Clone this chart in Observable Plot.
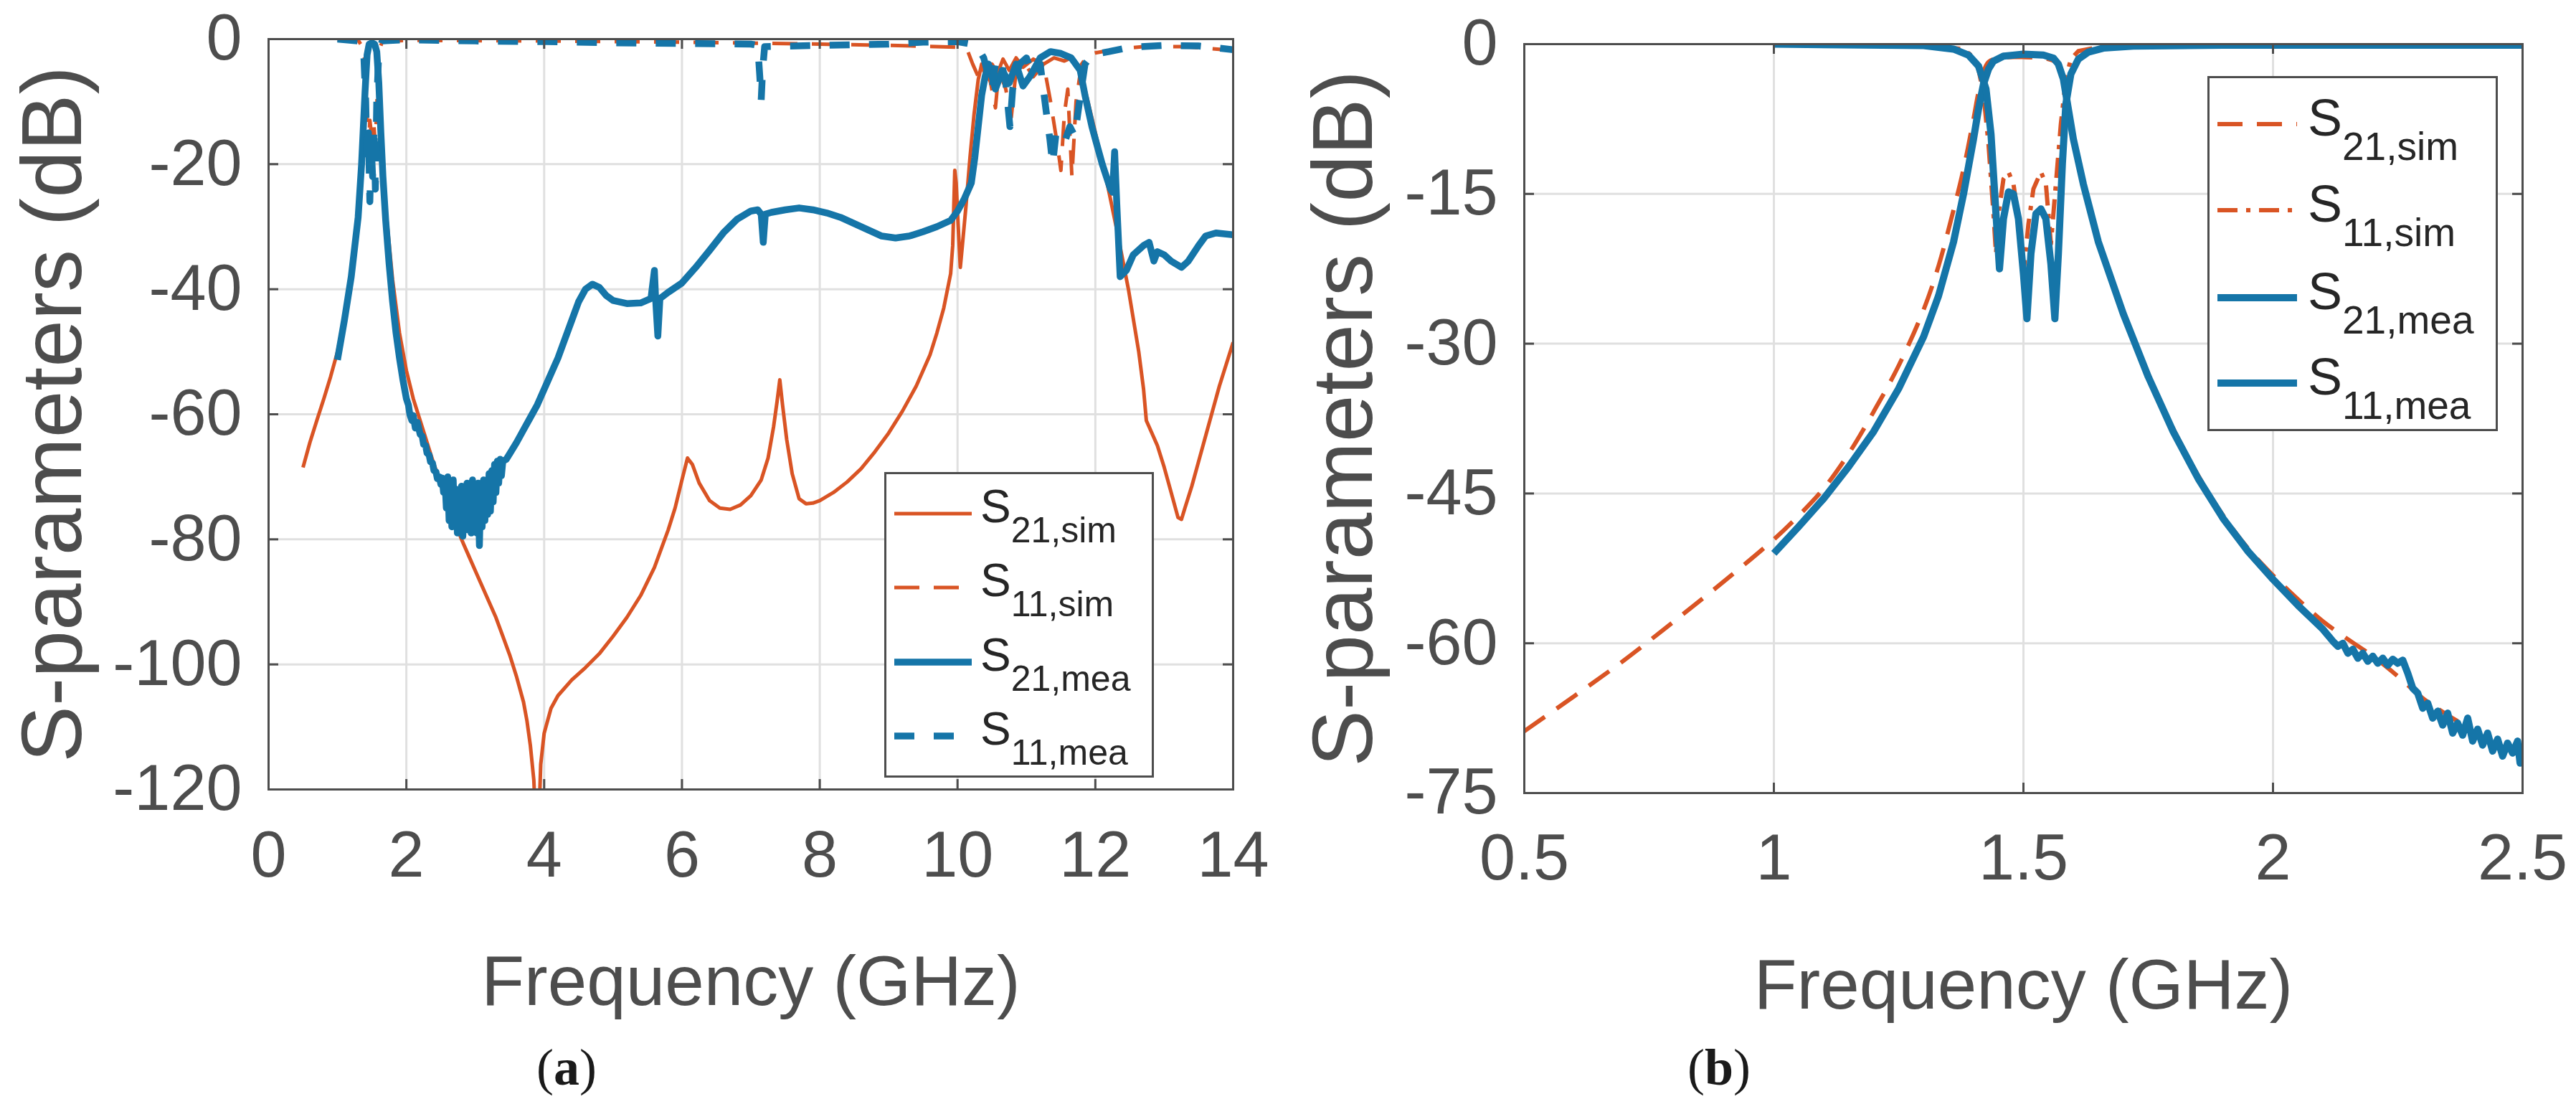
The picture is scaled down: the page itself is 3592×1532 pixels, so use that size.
<!DOCTYPE html>
<html><head><meta charset="utf-8">
<script src="https://cdn.jsdelivr.net/npm/d3@7"></script>
<script src="https://cdn.jsdelivr.net/npm/@observablehq/plot@0.6"></script>
<style>
html,body{margin:0;padding:0;background:#fff;}
#root{position:relative;width:3592px;height:1532px;overflow:hidden;background:#fff;}
.panel{position:absolute;top:0;}
.cap{position:absolute;font-family:"Liberation Serif","Times New Roman",serif;font-size:72px;color:#1a1a1a;transform:translate(-50%,-50%);white-space:nowrap;line-height:1;}
</style></head><body><div id="root"></div>
<script>
// ---------- Panel (a) data ----------
const aFreqTicks = [0, 2, 4, 6, 8, 10, 12, 14];
const aDbTicks = [-120, -100, -80, -60, -40, -20, 0];
const legendLabels = ["21,sim", "11,sim", "21,mea", "11,mea"];

const aS21sim = [[0.5,-68.5],[0.6,-64.5],[0.7,-61.0],[0.8,-57.6],[0.9,-54.0],[1.0,-50.0],[1.1,-44.5],[1.2,-37.0],[1.3,-27.0],[1.36,-17.0],[1.4,-7.5],[1.42,-3.0],[1.44,-1.2],[1.5,-0.8],[1.56,-1.2],[1.58,-3.0],[1.6,-9.0],[1.65,-19.0],[1.7,-27.0],[1.8,-38.5],[1.9,-47.0],[2.0,-53.0],[2.1,-57.5],[2.2,-61.0],[2.3,-64.5],[2.4,-68.0],[2.5,-71.0],[2.6,-74.0],[2.7,-77.0],[2.8,-80.0],[2.9,-82.5],[3.0,-85.0],[3.1,-87.5],[3.2,-90.0],[3.3,-92.5],[3.4,-95.5],[3.5,-98.5],[3.6,-102.0],[3.7,-106.0],[3.75,-109.0],[3.8,-113.0],[3.85,-118.5],[3.88,-126],[3.92,-126],[3.95,-116],[4.0,-111],[4.1,-107],[4.2,-105],[4.4,-102.5],[4.6,-100.5],[4.8,-98.3],[5.0,-95.5],[5.2,-92.5],[5.4,-89],[5.6,-84.5],[5.8,-78.5],[5.9,-75],[6.0,-70.5],[6.08,-67],[6.15,-68],[6.25,-71],[6.4,-73.8],[6.55,-75],[6.7,-75.2],[6.85,-74.5],[7.0,-73],[7.15,-70.5],[7.25,-67],[7.33,-62],[7.38,-58],[7.42,-54.5],[7.46,-58.5],[7.52,-64],[7.6,-69.5],[7.7,-73.5],[7.8,-74.3],[7.9,-74.2],[8.0,-73.8],[8.2,-72.5],[8.4,-70.8],[8.6,-68.7],[8.8,-66],[9.0,-63],[9.2,-59.5],[9.4,-55.5],[9.6,-50.5],[9.7,-47],[9.8,-43],[9.9,-37.5],[9.93,-33],[9.96,-21],[9.98,-23],[10.01,-30],[10.04,-36.5],[10.07,-33],[10.12,-27],[10.18,-19],[10.24,-12],[10.3,-6.5],[10.35,-4],[10.42,-6.5],[10.5,-4],[10.58,-5.5],[10.66,-3.2],[10.75,-5],[10.85,-3],[10.95,-4.5],[11.1,-3.2],[11.25,-4],[11.4,-3],[11.55,-3.5],[11.65,-3],[11.75,-4.5],[11.85,-8],[11.98,-14],[12.18,-23.5],[12.33,-31.5],[12.48,-40],[12.63,-50],[12.7,-56],[12.74,-61],[12.8,-62.5],[12.9,-65],[13.0,-68.5],[13.1,-72.5],[13.2,-76.5],[13.25,-76.8],[13.3,-75],[13.4,-71.5],[13.5,-67.5],[13.6,-63.5],[13.7,-59.5],[13.8,-55.5],[13.9,-52],[14.0,-48.5]];

const aS11sim = [[1.0,-0.1],[1.3,-0.2],[1.38,-1.5],[1.41,-6],[1.43,-14],[1.45,-18],[1.47,-13],[1.5,-16],[1.53,-14],[1.55,-17],[1.58,-8],[1.6,-2],[1.65,-0.4],[2,-0.2],[4,-0.3],[6,-0.5],[8,-0.8],[9,-1.0],[10,-1.3],[10.15,-2],[10.22,-4],[10.3,-6],[10.35,-9],[10.4,-4],[10.48,-7],[10.55,-11],[10.6,-5],[10.7,-8],[10.78,-12.5],[10.85,-5],[10.95,-3.5],[11.1,-6],[11.25,-4],[11.35,-10],[11.45,-17],[11.5,-21],[11.55,-12],[11.6,-8],[11.66,-22],[11.72,-10],[11.8,-4],[11.9,-2.5],[12.0,-2.2],[12.3,-1.6],[12.7,-1.2],[13.3,-1.2],[14,-1.8]];

const aS21mea = [[1.0,-51.3],[1.1,-45],[1.2,-38],[1.3,-28.5],[1.35,-20],[1.4,-8.5],[1.43,-2.5],[1.46,-0.8],[1.5,-0.6],[1.54,-0.8],[1.57,-2],[1.6,-7],[1.63,-15],[1.66,-22],[1.7,-29],[1.75,-36],[1.8,-42],[1.85,-47],[1.9,-51],[1.95,-54.5],[2.0,-57.5],[2.03,-58.5],[2.05,-60],[2.08,-61],[2.1,-60.2],[2.13,-62.2],[2.16,-61.3],[2.2,-63.2],[2.23,-63.5],[2.25,-64.8],[2.28,-65],[2.3,-66.2],[2.33,-66.5],[2.35,-67.6],[2.38,-67.8],[2.4,-69],[2.43,-69.2],[2.45,-70.3],[2.48,-70],[2.5,-71.2],[2.52,-70.2],[2.54,-72.5],[2.56,-70.5],[2.58,-75],[2.6,-70],[2.62,-77],[2.64,-71.5],[2.66,-78],[2.68,-70.5],[2.7,-77.5],[2.72,-72],[2.74,-79],[2.76,-72.5],[2.78,-78],[2.8,-71.5],[2.82,-79.5],[2.84,-72.5],[2.86,-77.5],[2.88,-71],[2.9,-78.5],[2.92,-71.5],[2.94,-79],[2.96,-70.5],[2.98,-78],[3.0,-72],[3.02,-79],[3.04,-71],[3.06,-81],[3.08,-71.5],[3.1,-78],[3.12,-70.5],[3.14,-77],[3.16,-71],[3.18,-76],[3.2,-69.5],[3.22,-75.5],[3.24,-69],[3.26,-74],[3.28,-68],[3.3,-72.5],[3.32,-67.5],[3.34,-71],[3.36,-67.2],[3.38,-69.8],[3.4,-67.5],[3.45,-67.2],[3.5,-66.3],[3.6,-64.5],[3.7,-62.5],[3.8,-60.5],[3.9,-58.5],[4.0,-56],[4.1,-53.5],[4.2,-51],[4.3,-48],[4.4,-45],[4.5,-42],[4.6,-40],[4.7,-39.2],[4.8,-39.7],[4.9,-41],[5.0,-41.8],[5.2,-42.3],[5.4,-42.2],[5.55,-41.5],[5.6,-37],[5.62,-42],[5.65,-47.5],[5.68,-41.5],[5.8,-40.5],[6.0,-39],[6.2,-36.5],[6.4,-33.8],[6.6,-31],[6.8,-28.8],[7.0,-27.5],[7.1,-27.3],[7.15,-28],[7.18,-32.5],[7.21,-28],[7.3,-27.7],[7.5,-27.3],[7.7,-27],[7.9,-27.3],[8.1,-27.8],[8.3,-28.5],[8.5,-29.5],[8.7,-30.5],[8.9,-31.5],[9.1,-31.8],[9.3,-31.5],[9.5,-30.8],[9.7,-30],[9.9,-29],[10.0,-27.5],[10.1,-25.5],[10.2,-23],[10.25,-19],[10.3,-14],[10.35,-9],[10.4,-6],[10.45,-4],[10.55,-8],[10.65,-5],[10.75,-7],[10.85,-4],[10.95,-7.5],[11.05,-6],[11.2,-3],[11.35,-2],[11.5,-2.3],[11.65,-3],[11.78,-5],[11.85,-9],[11.95,-14],[12.1,-20],[12.22,-24],[12.25,-24.5],[12.28,-18],[12.31,-26],[12.36,-38],[12.45,-37],[12.55,-34.5],[12.7,-33],[12.78,-32.5],[12.85,-35.5],[12.9,-34],[13.0,-34.5],[13.1,-35.5],[13.25,-36.5],[13.35,-35.5],[13.5,-33],[13.6,-31.5],[13.75,-31],[14.0,-31.3]];

const aS11mea = [[1.0,0],[1.3,-0.3],[1.38,-2],[1.41,-10],[1.43,-20],[1.45,-15],[1.47,-26],[1.49,-17],[1.51,-22],[1.53,-14],[1.55,-24],[1.57,-10],[1.6,-2],[1.65,-0.3],[2,-0.1],[3,-0.3],[4,-0.4],[5,-0.6],[6,-0.7],[7,-0.8],[7.1,-1],[7.13,-6],[7.15,-9.8],[7.17,-5],[7.2,-1.2],[8,-1],[9,-0.8],[9.5,-0.5],[10,-0.4],[10.2,-0.8],[10.3,-1.5],[10.38,-3],[10.45,-6],[10.5,-8],[10.55,-4],[10.62,-3],[10.7,-7],[10.76,-14],[10.8,-8],[10.9,-4],[11.0,-3],[11.1,-6],[11.2,-4],[11.28,-11],[11.34,-16],[11.38,-20],[11.43,-15],[11.5,-14.5],[11.57,-16],[11.63,-14],[11.7,-15.5],[11.77,-10],[11.85,-4],[11.95,-2.5],[12.2,-2],[12.5,-1.3],[13,-1],[13.5,-1.1],[14,-1.7]];

// ---------- Panel (b) data ----------
const bFreqTicks = [0.5, 1, 1.5, 2, 2.5];
const bDbTicks = [-75, -60, -45, -30, -15, 0];

const bS21sim = [[0.5,-68.8],[0.6,-65.3],[0.7,-61.7],[0.8,-57.8],[0.9,-53.8],[1.0,-49.6],[1.05,-47.2],[1.1,-44.5],[1.15,-41.0],[1.2,-36.8],[1.25,-32.2],[1.3,-26.6],[1.33,-22.2],[1.36,-16.6],[1.38,-12.5],[1.40,-7.5],[1.41,-4.8],[1.42,-2.8],[1.43,-1.8],[1.45,-1.4],[1.5,-1.3],[1.55,-1.5],[1.57,-2.0],[1.58,-3.5],[1.59,-6.0],[1.60,-9.0],[1.62,-14.0],[1.65,-19.5],[1.70,-27.0],[1.75,-33.0],[1.8,-38.5],[1.85,-43.2],[1.9,-47.2],[1.95,-50.5],[2.0,-53.2],[2.05,-55.6],[2.1,-57.8],[2.15,-59.6],[2.2,-61.3],[2.25,-63.3],[2.3,-65.5],[2.35,-67.2],[2.37,-67.8]];

const bS11sim = [[1.0,-0.05],[1.3,-0.1],[1.38,-0.5],[1.40,-1.3],[1.41,-2.5],[1.42,-5.0],[1.43,-10.0],[1.44,-17.0],[1.445,-21.0],[1.45,-17.0],[1.46,-13.5],[1.47,-12.8],[1.48,-14.0],[1.49,-17.5],[1.50,-23.0],[1.51,-18.0],[1.52,-14.5],[1.535,-12.8],[1.545,-14.0],[1.555,-20.0],[1.565,-14.0],[1.575,-8.0],[1.585,-3.5],[1.595,-1.5],[1.61,-0.7],[1.65,-0.3],[1.8,-0.1],[2.37,-0.05]];

const bS21mea = [[1.0,-51.0],[1.05,-48.3],[1.1,-45.5],[1.15,-42.3],[1.2,-38.8],[1.25,-34.5],[1.3,-29.3],[1.33,-25.2],[1.36,-19.8],[1.38,-15.0],[1.40,-9.5],[1.41,-6.5],[1.42,-4.0],[1.43,-2.5],[1.44,-1.7],[1.46,-1.2],[1.5,-1.0],[1.54,-1.1],[1.56,-1.4],[1.57,-2.0],[1.58,-3.5],[1.59,-6.5],[1.60,-9.5],[1.62,-14.0],[1.65,-19.8],[1.7,-27.0],[1.75,-33.3],[1.8,-38.8],[1.85,-43.5],[1.9,-47.5],[1.95,-50.8],[2.0,-53.6],[2.05,-56.2],[2.10,-58.6],[2.12,-59.8],[2.13,-60.3],[2.14,-60.0],[2.15,-61.0],[2.16,-60.6],[2.17,-61.5],[2.18,-61.0],[2.19,-61.8],[2.20,-61.3],[2.21,-62.0],[2.22,-61.5],[2.23,-62.2],[2.24,-61.6],[2.25,-62.0],[2.26,-61.7],[2.27,-63.0],[2.28,-64.5],[2.29,-65.0],[2.30,-66.5],[2.31,-66.0],[2.32,-67.5],[2.33,-66.8],[2.34,-68.2],[2.35,-67.0],[2.36,-69.0],[2.37,-68.0],[2.38,-69.2],[2.39,-67.5],[2.40,-69.8],[2.41,-68.6],[2.42,-70.2],[2.43,-69.0],[2.44,-70.8],[2.45,-69.6],[2.46,-71.3],[2.47,-70.0],[2.48,-71.0],[2.49,-69.8],[2.495,-72.0],[2.5,-70.5]];

const bS11mea = [[1.0,0],[1.3,-0.15],[1.36,-0.5],[1.39,-1.1],[1.41,-2.2],[1.425,-4.5],[1.435,-9.0],[1.445,-17.0],[1.452,-22.5],[1.46,-17.5],[1.47,-14.8],[1.48,-15.0],[1.49,-17.5],[1.50,-23.0],[1.507,-27.5],[1.515,-21.0],[1.525,-17.0],[1.535,-16.5],[1.545,-17.5],[1.555,-22.0],[1.563,-27.5],[1.57,-21.0],[1.578,-12.0],[1.585,-6.0],[1.595,-3.0],[1.61,-1.5],[1.63,-0.8],[1.66,-0.4],[1.72,-0.2],[1.9,-0.1],[2.5,-0.1]];

// ---------- styling ----------
const ORANGE = "#D95424", BLUE = "#1575A8", AXC = "#4D4D4D", GRIDC = "#E0E0E0", TXT = "#262626";
const FONT = "'Liberation Sans', Arial, Helvetica, sans-serif";
const root = document.getElementById("root");
const fmt = d => String(d);

function panel(cfg) {
  const FW = cfg.width - cfg.ml - cfg.mr, FH = cfg.height - cfg.mt - cfg.mb, T = 14;
  const lines = cfg.series.map(s => Plot.line(s.data, {
    x: d => d[0], y: d => d[1], stroke: s.color, strokeWidth: s.w,
    strokeDasharray: s.dash, strokeLinejoin: "round", strokeLinecap: "butt",
    curve: s.curve || "linear", clip: true
  }));
  return Plot.plot({
    width: cfg.width, height: cfg.height,
    marginLeft: cfg.ml, marginRight: cfg.mr, marginTop: cfg.mt, marginBottom: cfg.mb,
    style: {fontFamily: FONT, background: "transparent", overflow: "visible"},
    x: {domain: cfg.xd}, y: {domain: cfg.yd},
    marks: [
      Plot.gridX(cfg.xt, {stroke: GRIDC, strokeOpacity: 1, strokeWidth: 3}),
      Plot.gridY(cfg.yt, {stroke: GRIDC, strokeOpacity: 1, strokeWidth: 3}),
      ...lines,
      Plot.ruleX(cfg.xt, {x: d => d, stroke: AXC, strokeWidth: 3, insetTop: FH - T}),
      Plot.ruleX(cfg.xt, {x: d => d, stroke: AXC, strokeWidth: 3, insetBottom: FH - T}),
      Plot.ruleY(cfg.yt, {y: d => d, stroke: AXC, strokeWidth: 3, insetRight: FW - T}),
      Plot.ruleY(cfg.yt, {y: d => d, stroke: AXC, strokeWidth: 3, insetLeft: FW - T}),
      Plot.frame({stroke: AXC, strokeWidth: 3}),
      Plot.axisX(cfg.xt, {tickSize: 0, tickPadding: cfg.xpad, fontSize: 90, color: AXC, tickFormat: fmt, label: null}),
      Plot.axisY(cfg.yt, {tickSize: 0, tickPadding: 37, fontSize: 90, color: AXC, tickFormat: fmt, label: null}),
      Plot.text([cfg.ylabel], {frameAnchor: "left", textAnchor: "middle", rotate: -90, dx: cfg.ylabDx, fontSize: 118, fill: AXC, text: d => d}),
      Plot.text([cfg.xlabel], {frameAnchor: "bottom", textAnchor: "middle", dy: cfg.xlabDy, fontSize: 98, fill: AXC, text: d => d})
    ]
  });
}

function legend(cfg) {
  const svg = d3.create("svg").attr("width", cfg.w).attr("height", cfg.h)
    .style("position", "absolute").style("left", cfg.x + "px").style("top", cfg.y + "px");
  svg.append("rect").attr("x", 1.5).attr("y", 1.5).attr("width", cfg.w - 3).attr("height", cfg.h - 3)
    .attr("fill", "#fff").attr("stroke", AXC).attr("stroke-width", 3);
  cfg.items.forEach((it, i) => {
    const ly = cfg.rows[i];
    svg.append("line").attr("x1", cfg.lx1).attr("x2", cfg.lx2).attr("y1", ly).attr("y2", ly)
      .attr("stroke", it.color).attr("stroke-width", it.w).attr("stroke-dasharray", it.dash || null);
    const t = svg.append("text").attr("x", cfg.tx).attr("y", ly + cfg.sOff)
      .attr("font-family", FONT).attr("font-size", cfg.sSize).attr("fill", TXT).text("S");
    t.append("tspan").attr("dy", cfg.subDy).attr("font-size", cfg.subSize).text(it.label);
  });
  return svg.node();
}

// ---------- panel (a) ----------
const seriesA = [
  {data: aS21sim, color: ORANGE, w: 5, dash: null, label: legendLabels[0]},
  {data: aS11sim, color: ORANGE, w: 5, dash: "35,20", label: legendLabels[1]},
  {data: aS21mea, color: BLUE, w: 9.5, dash: null, label: legendLabels[2]},
  {data: aS11mea, color: BLUE, w: 9.5, dash: "28,27", label: legendLabels[3]}
];
const pa = panel({width: 1796, height: 1420, ml: 374, mr: 77, mt: 54, mb: 320,
  xd: [0, 14], yd: [-120, 0], xt: aFreqTicks, yt: aDbTicks, xpad: 58,
  ylabel: "S-parameters (dB)", xlabel: "Frequency (GHz)", ylabDx: -299, xlabDy: 300, series: seriesA});
const da = document.createElement("div"); da.className = "panel"; da.style.left = "0px"; da.appendChild(pa); root.appendChild(da);

root.appendChild(legend({x: 1233, y: 658, w: 376, h: 426, rows: [58, 161, 265, 368],
  lx1: 14, lx2: 122, tx: 134, sOff: 12, sSize: 64, subDy: 28, subSize: 50, items: seriesA}));

// ---------- panel (b) ----------
const seriesB = [
  {data: bS21sim, color: ORANGE, w: 6, dash: "35,20", label: legendLabels[0], curve: "catmull-rom"},
  {data: bS11sim, color: ORANGE, w: 6, dash: "28,12,6,12", label: legendLabels[1]},
  {data: bS21mea, color: BLUE, w: 10, dash: null, label: legendLabels[2]},
  {data: bS11mea, color: BLUE, w: 10, dash: null, label: legendLabels[3]}
];
const pb = panel({width: 1796, height: 1420, ml: 329, mr: 75, mt: 61, mb: 315,
  xd: [0.5, 2.5], yd: [-75, 0], xt: bFreqTicks, yt: bDbTicks, xpad: 57,
  ylabel: "S-parameters (dB)", xlabel: "Frequency (GHz)", ylabDx: -250, xlabDy: 300, series: seriesB});
const db = document.createElement("div"); db.className = "panel"; db.style.left = "1796px"; db.appendChild(pb); root.appendChild(db);

root.appendChild(legend({x: 3078, y: 106, w: 405, h: 495, rows: [67, 187, 309, 428],
  lx1: 14, lx2: 125, tx: 140, sOff: 16, sSize: 72, subDy: 34, subSize: 55, items: seriesB}));

// ---------- captions ----------
[["a", 790], ["b", 2397]].forEach(([c, x]) => {
  const el = document.createElement("div"); el.className = "cap";
  el.style.left = x + "px"; el.style.top = "1488px";
  el.innerHTML = "(<b>" + c + "</b>)";
  root.appendChild(el);
});
</script></body></html>
